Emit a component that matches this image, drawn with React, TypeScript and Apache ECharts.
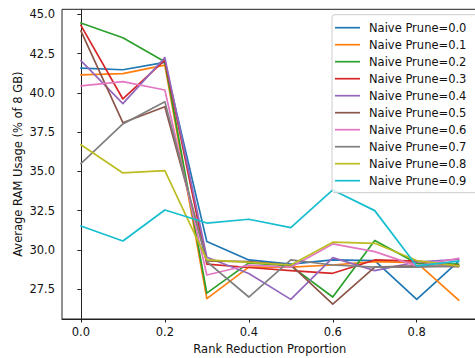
import React, { useEffect, useRef } from "react";
import * as echarts from "echarts";

const xs = [0.0, 0.1, 0.2, 0.3, 0.4, 0.5, 0.6, 0.7, 0.8, 0.9];
const xTicks = [0.0, 0.2, 0.4, 0.6, 0.8];
const yTicks = [27.5, 30.0, 32.5, 35.0, 37.5, 40.0, 42.5, 45.0];

const names = [
  "Naive Prune=0.0",
  "Naive Prune=0.1",
  "Naive Prune=0.2",
  "Naive Prune=0.3",
  "Naive Prune=0.4",
  "Naive Prune=0.5",
  "Naive Prune=0.6",
  "Naive Prune=0.7",
  "Naive Prune=0.8",
  "Naive Prune=0.9",
];

const p00 = [41.58, 41.47, 41.94, 30.53, 29.36, 29.1, 29.36, 29.32, 26.85, 29.28];
const p01 = [41.14, 41.22, 41.77, 26.9, 28.9, 28.9, 29.04, 29.25, 29.19, 26.8];
const p02 = [44.45, 43.51, 41.98, 27.25, 29.17, 28.98, 27.0, 30.6, 29.15, 29.1];
const p03 = [44.3, 39.61, 42.09, 29.1, 28.88, 28.68, 28.51, 29.36, 29.28, 29.0];
const p04 = [42.05, 39.31, 42.24, 29.53, 28.5, 26.85, 29.51, 28.68, 29.23, 29.4];
const p05 = [43.94, 38.1, 39.12, 29.3, 29.25, 29.04, 26.55, 28.9, 28.98, 28.94];
const p06 = [40.45, 40.71, 40.18, 28.4, 29.04, 28.9, 30.38, 29.89, 28.98, 29.47];
const p07 = [35.5, 38.02, 39.44, 29.25, 27.0, 29.36, 29.04, 28.9, 28.9, 28.98];
const p08 = [36.7, 34.9, 35.05, 29.36, 29.21, 29.04, 30.49, 30.42, 29.32, 28.98];
const p09 = [31.52, 30.57, 32.54, 31.71, 31.95, 31.42, 33.82, 32.5, 28.98, 29.28];

const seriesValues = [p00, p01, p02, p03, p04, p05, p06, p07, p08, p09];

const colors = [
  "#1f77b4",
  "#ff7f0e",
  "#2ca02c",
  "#d62728",
  "#9467bd",
  "#8c564b",
  "#e377c2",
  "#7f7f7f",
  "#bcbd22",
  "#17becf",
];

const FONT = "DejaVu Sans";
const FS = 11.5;

export default function App() {
  const ref = useRef<HTMLDivElement>(null);
  useEffect(() => {
    if (!ref.current) return;
    const chart = echarts.init(ref.current, undefined, { renderer: "svg" });
    const axisCommon = {
      axisLine: { show: true, lineStyle: { color: "#222", width: 1 } },
      axisTick: { show: true, inside: false, length: 3.5, lineStyle: { color: "#222", width: 1 } },
      splitLine: { show: false },
      nameMoveOverlap: false,
      nameTextStyle: { fontFamily: FONT, fontSize: FS, color: "#111" },
    };
    chart.setOption({
      animation: false,
      color: colors,
      textStyle: { fontFamily: FONT },
      grid: {
        left: 62,
        top: 9.3,
        right: -2.6,
        bottom: 39,
        show: true,
        borderColor: "#222",
        borderWidth: 1,
        outerBoundsMode: "none",
        containLabel: false,
      },
      legend: {
        orient: "vertical",
        left: 332,
        top: 14.7,
        padding: [7, 14, 6, 3],
        itemGap: 5,
        itemWidth: 25,
        itemHeight: 1.7,
        icon: "rect",
        backgroundColor: "rgba(255,255,255,0.8)",
        borderColor: "#cccccc",
        borderWidth: 1,
        borderRadius: 3,
        data: names,
        textStyle: {
          fontFamily: FONT,
          fontSize: FS,
          color: "#111",
          padding: [0, 0, 0, 4],
        },
      },
      xAxis: {
        type: "value",
        min: -0.045,
        max: 0.945,
        name: "Rank Reduction Proportion",
        nameLocation: "middle",
        nameGap: 23.5,
        ...axisCommon,
        axisTick: { ...axisCommon.axisTick, customValues: xTicks },
        axisLabel: {
          customValues: xTicks,
          formatter: (v: number) => v.toFixed(1),
          fontFamily: FONT,
          fontSize: FS,
          color: "#111",
          margin: 7,
        },
      },
      yAxis: {
        type: "value",
        min: 25.6,
        max: 45.32,
        name: "Average RAM Usage (% of 8 GB)",
        nameLocation: "middle",
        nameGap: 38,
        nameRotate: 90,
        ...axisCommon,
        axisTick: { ...axisCommon.axisTick, customValues: yTicks },
        axisLabel: {
          customValues: yTicks,
          formatter: (v: number) => v.toFixed(1),
          fontFamily: FONT,
          fontSize: FS,
          color: "#111",
          margin: 7,
        },
      },
      series: seriesValues.map((vals, i) => ({
        name: names[i],
        type: "line",
        data: xs.map((x, j) => [x, vals[j]]),
        showSymbol: false,
        symbol: "none",
        lineStyle: { width: 1.7, color: colors[i], join: "round", cap: "round" },
        itemStyle: { color: colors[i] },
      })),
    });
    return () => chart.dispose();
  }, []);
  return (
    <div
      ref={ref}
      style={{ position: "fixed", left: 0, top: 0, width: 475, height: 358, background: "#fff" }}
    />
  );
}
